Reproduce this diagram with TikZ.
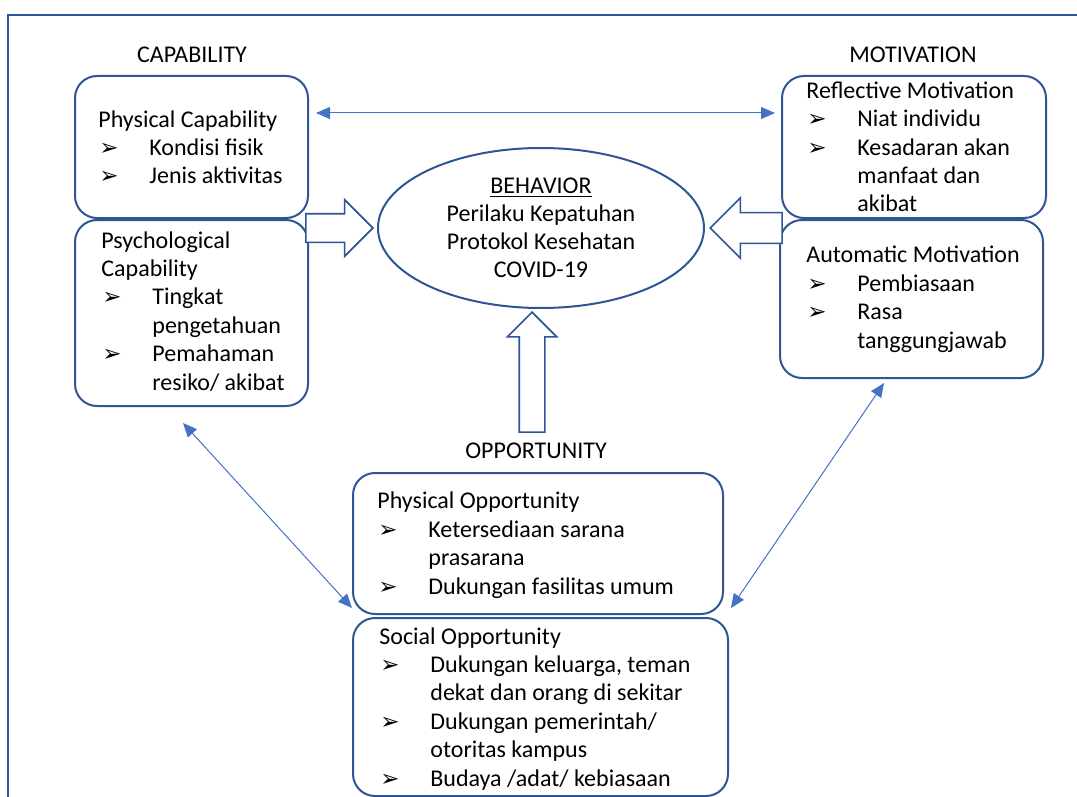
\documentclass[tikz,border=0pt]{standalone}
\usepackage{fontspec}
\setmainfont{Carlito}
\newfontfamily\symfont{DejaVu Sans}
\usetikzlibrary{arrows.meta, shapes.geometric, shapes.arrows, positioning}
\definecolor{boxblue}{HTML}{2F5597}
\definecolor{linkblue}{HTML}{4472C4}
\newlength{\itmw}
\setlength{\itmw}{25.5pt}
\newcommand{\bul}{{\symfont\fontsize{11.5}{11.5}\selectfont\char"27A2}}
\newcommand{\itm}[1]{\makebox[\itmw][l]{\hspace{0.5pt}\bul}#1}
\newcommand{\cnt}[1]{\hspace*{\itmw}#1}
\tikzset{
  box/.style  = {draw=boxblue, line width=1pt, rounded corners=11pt, inner sep=0pt},
  txt/.style  = {align=left, inner sep=0pt, anchor=base west,
                 font=\fontsize{12}{14.2}\selectfont},
  head/.style = {inner sep=0pt, anchor=base, font=\fontsize{12}{14}\selectfont},
  fat/.style  = {single arrow, draw=boxblue, line width=0.8pt, fill=white,
                 single arrow head indent=0pt},
  link/.style = {{Triangle[length=7pt,width=6pt]}-{Triangle[length=7pt,width=6pt]},
                 draw=linkblue, line width=0.5pt},
}

\begin{document}
\begin{tikzpicture}[x=0.5pt, y=-0.5pt]
  \useasboundingbox (0,0) rectangle (1077,797);
  \draw[boxblue, line width=0.8pt] (1077,15) -- (8,15) -- (8,797);

  % headings
  \node[head] (capH) at (192,63)  {CAPABILITY};
  \node[head] (motH) at (913,63)  {MOTIVATION};
  \node[head] (oppH) at (536,458) {OPPORTUNITY};

  % boxes
  \node[box, minimum width=116.5pt, minimum height=71pt] (pcap) at (191.5,147) {};
  \node[box, minimum width=116.5pt, minimum height=93pt] (psy)  at (191.5,313) {};
  \node[box, minimum width=132pt,   minimum height=71pt] (refl) at (914,147)   {};
  \node[box, minimum width=131.5pt, minimum height=79pt] (auto) at (911.5,299) {};
  \node[box, minimum width=185pt,   minimum height=70.5pt] (phop) at (538,543.5) {};
  \node[box, minimum width=187.5pt, minimum height=89pt] (soop) at (540.5,707) {};

  \node[ellipse, draw=boxblue, line width=1pt, minimum width=163pt, minimum height=80pt,
        align=center, font=\fontsize{12}{14}\selectfont] (beh) at (541,228)
    {\underline{BEHAVIOR}\\Perilaku Kepatuhan\\Protokol Kesehatan\\COVID-19};

  % box texts (base = last line)
  \node[txt] (pcapT) at (98,184)
    {Physical Capability\\\itm{Kondisi fisik}\\\itm{Jenis aktivitas}};
  \node[txt] (psyT) at (101,390)
    {Psychological\\Capability\\\itm{Tingkat}\\\cnt{pengetahuan}\\\itm{Pemahaman}\\\cnt{resiko/ akibat}};
  \node[txt] (reflT) at (806,212)
    {Reflective Motivation\\\itm{Niat individu}\\\itm{Kesadaran akan}\\\cnt{manfaat dan}\\\cnt{akibat}};
  \node[txt] (autoT) at (806,348)
    {Automatic Motivation\\\itm{Pembiasaan}\\\itm{Rasa}\\\cnt{tanggungjawab}};
  \node[txt] (phopT) at (377,594)
    {Physical Opportunity\\\itm{Ketersediaan sarana}\\\cnt{prasarana}\\\itm{Dukungan fasilitas umum}};
  \node[txt] (soopT) at (379,786)
    {Social Opportunity\\\itm{Dukungan keluarga, teman}\\\cnt{dekat dan orang di sekitar}\\\itm{Dukungan pemerintah/}\\\cnt{otoritas kampus}\\\itm{Budaya /adat/ kebiasaan}};

  % block arrows into behavior
  \node[fat, anchor=tip, minimum height=33.5pt, inner sep=6.75pt,
        single arrow head extend=7pt] (capA) at ([xshift=-1.5pt]beh.west) {};
  \node[fat, anchor=tip, shape border rotate=180, minimum height=36pt, inner sep=7.25pt,
        single arrow head extend=7.5pt] (motA) at ([xshift=2pt]beh.east) {};
  \node[fat, anchor=tip, shape border rotate=90, minimum height=60pt, inner sep=6pt,
        single arrow head extend=6pt] (oppA) at ([shift={(-9,2)}]beh.south) {};

  % thin links
  \coordinate (capR) at (316,113);
  \coordinate (motL) at (775,113);
  \coordinate (psyB) at (183,423);
  \coordinate (phopL) at (352,608);
  \coordinate (autoB) at (884,383);
  \coordinate (phopR) at (731,608);
  \draw[link] (capR) -- (motL);
  \draw[link] (psyB) -- (phopL);
  \draw[link] (autoB) -- (phopR);
\end{tikzpicture}
\end{document}
